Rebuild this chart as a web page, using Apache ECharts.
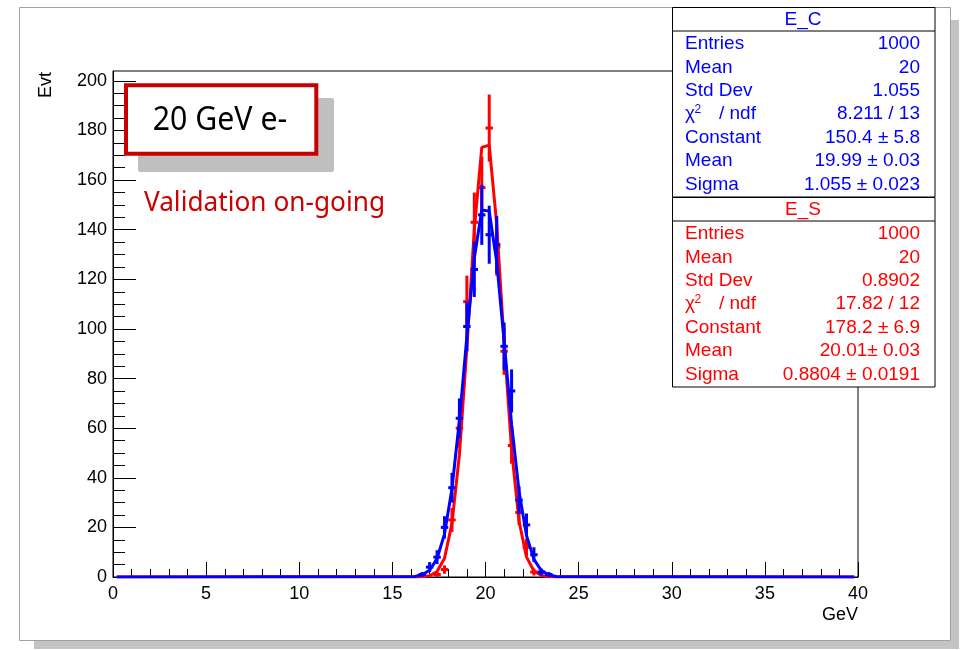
<!DOCTYPE html>
<html><head><meta charset="utf-8">
<script src="https://cdn.jsdelivr.net/npm/echarts@6/dist/echarts.min.js"></script>
<style>html,body{margin:0;padding:0;background:#fff;}#c{width:961px;height:650px;}</style>
</head><body><div id="c"></div>
<script>
// ---- data ----
const binCenters = [16.6,17.0,17.4,17.8,18.2,18.6,19.0,19.4,19.8,20.2,20.6,21.0,21.4,21.8,22.2,22.6,23.0,23.4];
const blueCounts = [1,4,8,20,36,64,101,124,146,138,134,93,75,31,21,9,2,1];
const blueErrors = [1,2,2.8,4.5,6,8,10,11.1,12.1,11.7,11.6,9.6,8.7,5.6,4.6,3,1.4,1];
const redCounts  = [0,0,1,3,23,60,111,143,157,181,133,91,53,26,12,2,0,0];
const redErrors  = [0,0,1,1.7,4.8,7.7,10.5,12,12.5,13.5,11.5,9.5,7.3,5.1,3.5,1.4,0,0];
const binHalfWidth = 0.2;

const fitX    = [0.2,16.2,16.6,17.0,17.4,17.8,18.2,18.6,19.0,19.4,19.8,20.2,20.6,21.0,21.4,21.8,22.2,22.6,23.0,23.4,23.8,39.8];
const blueFit = [0,0.2,0.9,2.7,7.4,17.4,35.6,63.2,96.9,128.6,148,147.5,127.2,95.1,61.6,34.5,16.8,7.1,2.6,0.8,0.2,0];
const redFit  = [0,0,0.1,0.5,2.2,7.6,21.6,49.4,92.3,140.2,173.2,174.1,142.4,94.7,51.2,22.6,8.1,2.4,0.6,0.1,0,0];

const yMajorTicks = [0,20,40,60,80,100,120,140,160,180,200];
const yMinorTicks = [5,10,15,25,30,35,45,50,55,65,70,75,85,90,95,105,110,115,125,130,135,145,150,155,165,170,175,185,190,195];

const statsLabels = ['Entries','Mean','Std Dev','CHI','Constant','Mean','Sigma'];
const statsEC = ['1000','20','1.055','8.211 / 13','150.4 \u00b1 5.8','19.99 \u00b1 0.03','1.055 \u00b1 0.023'];
const statsES = ['1000','20','0.8902','17.82 / 12','178.2 \u00b1 6.9','20.01\u00b1 0.03','0.8804 \u00b1 0.0191'];

// ---- chart ----
const BLUE = '#0000ff', RED = '#ff0000';
const chart = echarts.init(document.getElementById('c'), null, {renderer:'canvas'});

function errSeries(counts, errors, color, z) {
  const data = [];
  binCenters.forEach((c, i) => { if (counts[i] > 0) data.push([c, counts[i], errors[i]]); });
  return {
    type: 'custom', data, z, silent: true,
    encode: {x: 0, y: 1},
    renderItem: (params, api) => {
      const x = api.value(0), y = api.value(1), e = api.value(2);
      const pL = api.coord([x - binHalfWidth, y]), pR = api.coord([x + binHalfWidth, y]);
      const pT = api.coord([x, y + e]), pB = api.coord([x, Math.max(0, y - e)]);
      return {type: 'group', children: [
        {type: 'line', shape: {x1: pL[0], y1: pL[1], x2: pR[0], y2: pR[1]}, style: {stroke: color, lineWidth: 3}},
        {type: 'line', shape: {x1: pT[0], y1: pT[1], x2: pB[0], y2: pB[1]}, style: {stroke: color, lineWidth: 3}}
      ]};
    }
  };
}
function fitSeries(vals, color, z) {
  return {type: 'line', data: fitX.map((x, i) => [x, vals[i]]), showSymbol: false, symbol: 'none',
    lineStyle: {color, width: 3}, itemStyle: {color}, z, silent: true, clip: true};
}

const F = 'Liberation Sans, Arial, sans-serif';
const graphics = [];
// outer picture frame + shadow
graphics.push({type:'rect', z:-10, shape:{x:951, y:20, width:8, height:629}, style:{fill:'#c4c4c4'}});
graphics.push({type:'rect', z:-10, shape:{x:34, y:641, width:925, height:8}, style:{fill:'#c4c4c4'}});
graphics.push({type:'rect', z:-9, shape:{x:19.5, y:7.5, width:931, height:633}, style:{fill:'#fff', stroke:'#a0a0a0', lineWidth:1}});

// stats boxes
function statsBox(top, title, values, color) {
  const h = 189.5;
  graphics.push({type:'rect', z:50, shape:{x:672.5, y:top, width:262.5, height:h}, style:{fill:'#fff', stroke:'#000', lineWidth:1}});
  graphics.push({type:'line', z:51, shape:{x1:672.5, y1:top+23.5, x2:935, y2:top+23.5}, style:{stroke:'#000', lineWidth:1}});
  graphics.push({type:'text', z:52, x:803, y:top+12, style:{text:title, fill:color, font:'19px '+F, align:'center', verticalAlign:'middle'}});
  statsLabels.forEach((lab, i) => {
    const y = top + 36.5 + i * 23.4;
    if (lab === 'CHI') {
      graphics.push({type:'text', z:52, x:685, y:y, style:{text:'\u03c7', fill:color, font:'19px '+F, align:'left', verticalAlign:'middle'}});
      graphics.push({type:'text', z:52, x:694.5, y:y-5, style:{text:'2', fill:color, font:'12px '+F, align:'left', verticalAlign:'middle'}});
      graphics.push({type:'text', z:52, x:719, y:y, style:{text:'/ ndf', fill:color, font:'19px '+F, align:'left', verticalAlign:'middle'}});
    } else {
      graphics.push({type:'text', z:52, x:685, y:y, style:{text:lab, fill:color, font:'19px '+F, align:'left', verticalAlign:'middle'}});
    }
    graphics.push({type:'text', z:52, x:920, y:y, style:{text:values[i], fill:color, font:'19px '+F, align:'right', verticalAlign:'middle'}});
  });
}
statsBox(7.5, 'E_C', statsEC, BLUE);
statsBox(197.5, 'E_S', statsES, RED);

// annotation box
graphics.push({type:'rect', z:40, shape:{x:138, y:98, width:196, height:74, r:2}, style:{fill:'#bfbfbf'}});
graphics.push({type:'rect', z:41, shape:{x:126, y:85.3, width:190.3, height:68.4}, style:{fill:'#fff', stroke:'#c80000', lineWidth:4}});
graphics.push({type:'text', z:42, x:220, y:121, scaleX:0.917, style:{text:'20 GeV e-', fill:'#000', font:'33px "Noto Sans"', align:'center', verticalAlign:'middle'}});
graphics.push({type:'text', z:42, x:264.5, y:203, scaleX:0.937, style:{text:'Validation on-going', fill:'#cc0000', font:'28px "Noto Sans"', align:'center', verticalAlign:'middle'}});

// axis titles
graphics.push({type:'text', z:30, x:46, y:85, rotation:Math.PI/2, style:{text:'Evt', fill:'#000', font:'18px '+F, align:'center', verticalAlign:'middle'}});
graphics.push({type:'text', z:30, x:858, y:615, style:{text:'GeV', fill:'#000', font:'18px '+F, align:'right', verticalAlign:'middle'}});

const option = {
  animation: false,
  backgroundColor: '#fff',
  grid: {left: 113, top: 71, width: 745, height: 506, show: true, borderColor: '#000', borderWidth: 1, backgroundColor: 'transparent', containLabel: false, outerBoundsMode: 'none'},
  xAxis: {
    type: 'value', min: 0, max: 40, interval: 5,
    axisLine: {show: true, onZero: false, lineStyle: {color: '#000', width: 1}},
    axisTick: {show: true, inside: true, length: 15, lineStyle: {color: '#000', width: 1}},
    minorTick: {show: true, splitNumber: 5, length: 8, lineStyle: {color: '#000', width: 1}},
    axisLabel: {color: '#000', fontFamily: F, fontSize: 18, margin: 8},
    splitLine: {show: false}, minorSplitLine: {show: false}
  },
  yAxis: [{
    type: 'value', min: 0, max: 204, interval: 20, position: 'left',
    axisLine: {show: true, lineStyle: {color: '#000', width: 1}},
    axisTick: {show: true, inside: true, length: 23, customValues: yMajorTicks, lineStyle: {color: '#000', width: 1}},
    axisLabel: {color: '#000', fontFamily: F, fontSize: 18, margin: 6, customValues: yMajorTicks, padding: [3, 0, 0, 0]},
    splitLine: {show: false}
  }, {
    type: 'value', min: 0, max: 204, interval: 20, position: 'left', offset: 0,
    axisLine: {show: false},
    axisTick: {show: true, inside: true, length: 12, customValues: yMinorTicks, lineStyle: {color: '#000', width: 1}},
    axisLabel: {show: false},
    splitLine: {show: false}
  }],
  series: [
    errSeries(redCounts, redErrors, RED, 3),
    fitSeries(redFit, RED, 4),
    errSeries(blueCounts, blueErrors, BLUE, 5),
    fitSeries(blueFit, BLUE, 6)
  ],
  graphic: graphics
};
chart.setOption(option);
</script>
</body></html>
